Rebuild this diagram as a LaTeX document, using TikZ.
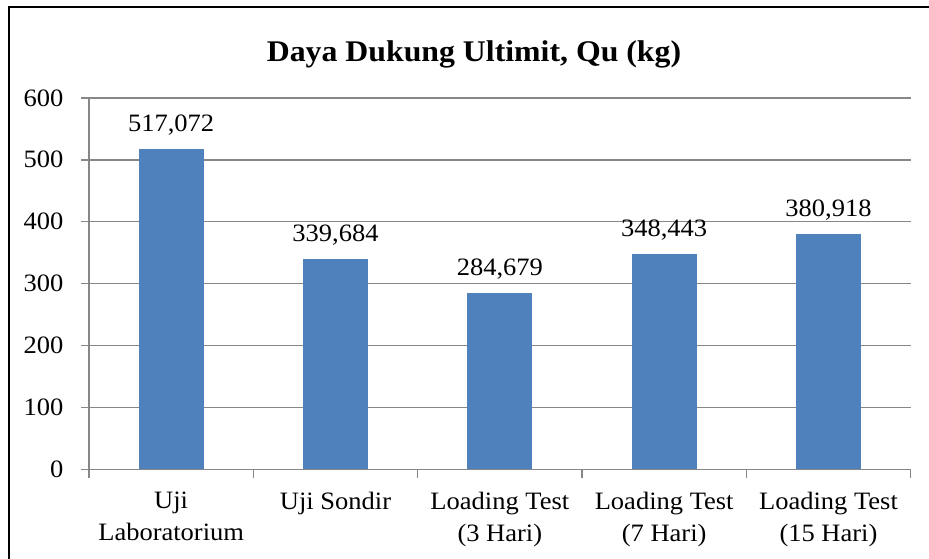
\documentclass[tikz,border=0pt]{standalone}
\usepackage{fontspec}
\setmainfont[FakeStretch=1.06]{Liberation Serif}
\begin{document}
\begin{tikzpicture}[x=1pt,y=-1pt,
  grid/.style={draw=black!47,line width=1.6pt},
  bar/.style={fill=barblue,draw=none},
  val/.style={font=\fontsize{25}{28}\selectfont,inner sep=0pt,anchor=base},
  ylab/.style={font=\fontsize{25}{28}\selectfont,inner sep=0pt,anchor=east},
  cat/.style={font=\fontsize{25}{31.7}\selectfont,inner sep=0pt,align=center,anchor=north}]
\definecolor{barblue}{HTML}{4F81BD}
\useasboundingbox (0,0) rectangle (929,559);
\fill[white] (0,0) rectangle (929,559);
% frame
\draw[black,line width=2.2pt] (9,570) -- (9,7) -- (940,7);
% title
\node[font=\bfseries\fontsize{30}{34}\selectfont,inner sep=0pt,anchor=base] (title) at (474,61.7) {Daya Dukung Ultimit, Qu (kg)};
% gridlines and y labels
\foreach \v/\n in {0/y0,100/y1,200/y2,300/y3,400/y4,500/y5,600/y6}{
  \coordinate (\n l) at (81,{469.3-0.619*\v});
  \coordinate (\n r) at (910.7,{469.3-0.619*\v});
  \draw[grid] (\n l) -- (\n r);
  \node[ylab] (\n t) at (63.5,{469.3-0.619*\v}) {\v};
}
% axes
\coordinate (ytop) at (89,97.9);
\coordinate (ybot) at (89,477.5);
\draw[grid] (ytop) -- (ybot);
\foreach \i in {1,2,3,4,5}{
  \coordinate (tk\i a) at ({89+164.33*\i},469.3);
  \coordinate (tk\i b) at ({89+164.33*\i},477.5);
  \draw[grid] (tk\i a) -- (tk\i b);
}
% bars
\foreach \i/\v/\lab in {0/517.072/{517,072},1/339.684/{339,684},2/284.679/{284,679},3/348.443/{348,443},4/380.918/{380,918}}{
  \fill[bar] ({89+164.33*(\i+0.5)-32.5},469.3) rectangle ({89+164.33*(\i+0.5)+32.5},{469.3-0.619*\v});
  \node[val] (v\i) at ({89+164.33*(\i+0.5)},{469.3-0.619*\v-17.5}) {\lab};
}
\draw[grid] (y0l) -- (y0r);
% category labels
\node[cat] (c0) at ({89+164.33*0.5},492.2) {Uji\\Laboratorium};
\node[cat] (c1) at ({89+164.33*1.5},492.2) {Uji Sondir};
\node[cat] (c2) at ({89+164.33*2.5},492.2) {Loading Test\\(3 Hari)};
\node[cat] (c3) at ({89+164.33*3.5},492.2) {Loading Test\\(7 Hari)};
\node[cat] (c4) at ({89+164.33*4.5},492.2) {Loading Test\\(15 Hari)};
\end{tikzpicture}
\end{document}
